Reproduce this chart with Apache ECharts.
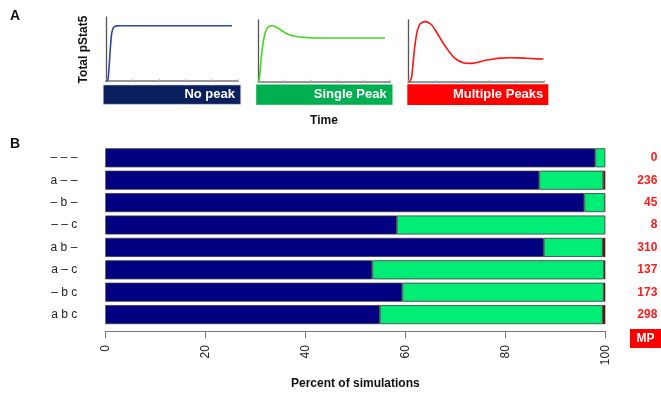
<!DOCTYPE html>
<html>
<head>
<meta charset="utf-8">
<script src="https://cdn.jsdelivr.net/npm/echarts@6/dist/echarts.min.js"></script>
<style>html,body{margin:0;padding:0;background:#fff}#c{width:661px;height:396px}</style>
</head>
<body>
<div id="c"></div>
<script>
// ---------- Panel A: example time courses (time, normalized pStat5) ----------
var noPeakCurve = [[0,0],[1,0.005],[1.7,0.05],[2.3,0.2],[3,0.43],[3.7,0.62],[4.3,0.745],[5,0.8],[5.5,0.83],[6.5,0.85],[8.1,0.862],[12,0.864],[30,0.864],[60,0.864],[95.5,0.864]];
var singlePeakCurve = [[0,0],[0.6,0.02],[1.5,0.2],[2.6,0.46],[3.8,0.65],[5.1,0.784],[6.3,0.85],[7.6,0.89],[10.2,0.908],[12.5,0.895],[15.2,0.865],[17.5,0.83],[20.3,0.795],[23,0.765],[26.6,0.74],[30,0.728],[34,0.72],[44,0.708],[60,0.708],[80,0.708],[96.2,0.708]];
var multiPeakCurve = [[0,0],[0.7,0.005],[1.6,0.03],[2.5,0.085],[3.3,0.25],[4.2,0.463],[5.2,0.64],[6.2,0.785],[7.3,0.87],[8.6,0.935],[10.5,0.965],[12.8,0.973],[15,0.955],[17.2,0.92],[19.5,0.85],[22.1,0.758],[25,0.65],[28.3,0.544],[31.3,0.455],[34.4,0.382],[37.5,0.34],[40.5,0.311],[44.2,0.30],[48,0.305],[52.8,0.327],[57,0.35],[62.6,0.371],[68,0.385],[74.9,0.392],[81,0.389],[87.2,0.382],[93,0.376],[99.5,0.371]];
var panelALabels = ['No peak', 'Single Peak', 'Multiple Peaks'];

// ---------- Panel B: percent of simulations ----------
var combos = ['– – –', 'a – –', '– b –', '– – c', 'a b –', 'a – c', '– b c', 'a b c'];
var noPeakPct     = [98.0, 86.8, 95.8, 58.3, 87.7, 53.4, 59.4, 54.9];
var singlePeakPct = [2.0, 12.8, 4.1, 41.68, 11.8, 46.35, 40.3, 44.6];
var multiPeakPct  = [0.0, 0.4, 0.1, 0.02, 0.5, 0.25, 0.3, 0.5];
var mpCounts      = ['0', '236', '45', '8', '310', '137', '173', '298'];
var xTicks = [0, 20, 40, 60, 80, 100];

var FONT = '"Liberation Sans", Arial, sans-serif';
var chart = echarts.init(document.getElementById('c'), null, {renderer: 'canvas'});

function smallX(i) {
  return {gridIndex: i, type: 'value', min: 0, max: 100, interval: 20,
    axisLine: {show: true, lineStyle: {color: '#999', width: 2}},
    axisTick: {show: true, inside: true, length: 2, lineStyle: {color: '#bbb'}},
    axisLabel: {show: false}, splitLine: {show: false}};
}
function smallY(i) {
  return {gridIndex: i, type: 'value', min: 0, max: 1,
    axisLine: {show: true, lineStyle: {color: '#555', width: 1.3}},
    axisTick: {show: false}, axisLabel: {show: false}, splitLine: {show: false}};
}

var option = {
  animation: false,
  backgroundColor: '#fff',
  textStyle: {fontFamily: FONT},
  grid: [
    {left: 106, top: 17, width: 132, height: 64},
    {left: 258.3, top: 20, width: 131.7, height: 61.7},
    {left: 408.3, top: 20, width: 135.7, height: 62},
    {left: 105.3, top: 146.6, width: 500, height: 179.2}
  ],
  xAxis: [
    smallX(0), smallX(1), smallX(2),
    {gridIndex: 3, type: 'value', min: 0, max: 100, interval: 20, offset: 5.4,
      axisLine: {show: true, lineStyle: {color: '#777', width: 1}},
      axisTick: {show: true, length: 7, lineStyle: {color: '#777'}},
      axisLabel: {rotate: 90, margin: 14, fontSize: 12, color: '#222', fontFamily: FONT,
        formatter: function (v) { return xTicks.indexOf(v) >= 0 ? String(v) : ''; }},
      splitLine: {show: false},
      name: 'Percent of simulations', nameLocation: 'middle', nameGap: 46,
      nameTextStyle: {fontSize: 12, fontWeight: 'bold', color: '#111', fontFamily: FONT}}
  ],
  yAxis: [
    smallY(0), smallY(1), smallY(2),
    {gridIndex: 3, type: 'category', data: combos, inverse: true,
      axisLine: {show: false}, axisTick: {show: false},
      axisLabel: {margin: 28, fontSize: 12, color: '#222', fontFamily: FONT}},
    {gridIndex: 3, type: 'category', data: mpCounts, inverse: true, position: 'right',
      axisLine: {show: false}, axisTick: {show: false},
      axisLabel: {margin: 52, align: 'right', fontSize: 12, fontWeight: 'bold', color: '#ff1a1a', fontFamily: FONT}}
  ],
  series: [
    {type: 'line', xAxisIndex: 0, yAxisIndex: 0, data: noPeakCurve, showSymbol: false, smooth: 0.3,
      lineStyle: {color: '#2f47a6', width: 1.6}},
    {type: 'line', xAxisIndex: 1, yAxisIndex: 1, data: singlePeakCurve, showSymbol: false, smooth: 0.3,
      lineStyle: {color: '#3cd91e', width: 1.6}},
    {type: 'line', xAxisIndex: 2, yAxisIndex: 2, data: multiPeakCurve, showSymbol: false, smooth: 0.3,
      lineStyle: {color: '#ff1414', width: 1.6}},
    {type: 'bar', name: 'NP', xAxisIndex: 3, yAxisIndex: 3, stack: 'b', data: noPeakPct, barCategoryGap: '15%',
      itemStyle: {color: '#000080', borderColor: '#3a3a3a', borderWidth: 0.8}},
    {type: 'bar', name: 'SP', xAxisIndex: 3, yAxisIndex: 3, stack: 'b', data: singlePeakPct, barCategoryGap: '15%',
      itemStyle: {color: '#00ee76', borderColor: '#3a3a3a', borderWidth: 0.8}},
    {type: 'bar', name: 'MP', xAxisIndex: 3, yAxisIndex: 3, stack: 'b', data: multiPeakPct, barCategoryGap: '15%',
      itemStyle: {color: '#5a1410', borderColor: '#3a3a3a', borderWidth: 0}}
  ],
  graphic: [
    {type: 'text', left: 10, top: 9, style: {text: 'A', font: 'bold 14px ' + FONT, fill: '#111'}},
    {type: 'text', left: 10, top: 137, style: {text: 'B', font: 'bold 14px ' + FONT, fill: '#111'}},
    {type: 'text', x: 83.5, y: 49.5, rotation: Math.PI / 2,
      style: {text: 'Total pStat5', font: 'bold 12px ' + FONT, fill: '#111', align: 'center', verticalAlign: 'middle'}},
    {type: 'text', x: 324, y: 121, style: {text: 'Time', font: 'bold 12px ' + FONT, fill: '#111', align: 'center', verticalAlign: 'middle'}},
    {type: 'rect', shape: {x: 103.3, y: 85, width: 137.4, height: 19.3}, style: {fill: '#0a205e', stroke: '#c8c8d8', lineWidth: 0.6}},
    {type: 'text', x: 235, y: 94.6, style: {text: panelALabels[0], font: 'bold 13px ' + FONT, fill: '#fff', align: 'right', verticalAlign: 'middle'}},
    {type: 'rect', shape: {x: 256, y: 84.3, width: 136.7, height: 20.7}, style: {fill: '#00b050', stroke: '#c8e8d0', lineWidth: 0.6}},
    {type: 'text', x: 386.7, y: 94.6, style: {text: panelALabels[1], font: 'bold 13px ' + FONT, fill: '#fff', align: 'right', verticalAlign: 'middle'}},
    {type: 'rect', shape: {x: 407.3, y: 84.3, width: 141, height: 20.7}, style: {fill: '#ff0000'}},
    {type: 'text', x: 543.3, y: 94.6, style: {text: panelALabels[2], font: 'bold 13px ' + FONT, fill: '#fff', align: 'right', verticalAlign: 'middle'}},
    {type: 'rect', shape: {x: 630, y: 329, width: 31, height: 19}, style: {fill: '#ff0000'}},
    {type: 'text', x: 645.5, y: 338.5, style: {text: 'MP', font: 'bold 12px ' + FONT, fill: '#fff', align: 'center', verticalAlign: 'middle'}}
  ]
};
chart.setOption(option);
</script>
</body>
</html>
